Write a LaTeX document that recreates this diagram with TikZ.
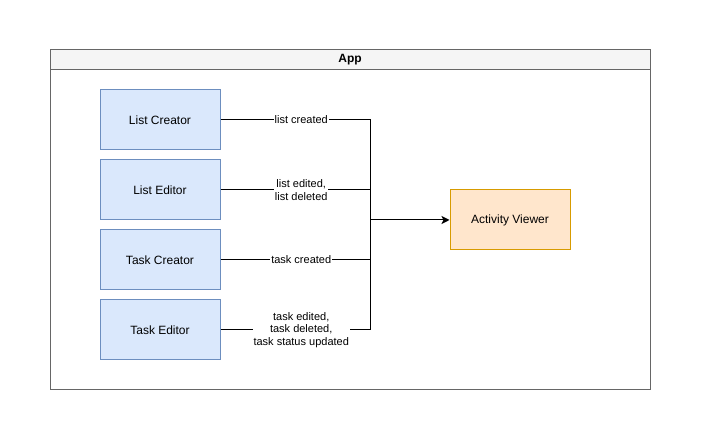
\documentclass[tikz,border=0pt]{standalone}
\usepackage{fontspec}
\setmainfont{Liberation Sans}
\usetikzlibrary{positioning,arrows.meta}
\definecolor{boxblue}{HTML}{DAE8FC}
\definecolor{lineblue}{HTML}{6C8EBF}
\definecolor{boxorange}{HTML}{FFE6CC}
\definecolor{lineorange}{HTML}{D79B00}
\definecolor{framegray}{HTML}{666666}
\definecolor{headgray}{HTML}{F5F5F5}

\tikzset{
compbox/.style={draw=lineblue,fill=boxblue,line width=0.75pt,minimum width=90pt,minimum height=45pt,font=\fontsize{9pt}{11pt}\selectfont},
viewerbox/.style={draw=lineorange,fill=boxorange,line width=0.75pt,minimum width=90pt,minimum height=45pt,font=\fontsize{9pt}{11pt}\selectfont},
edgelabel/.style={fill=white,inner sep=0.6pt,align=center,font=\fontsize{8.25pt}{9.6pt}\selectfont},
link/.style={line width=0.75pt}
}

\begin{document}
\begin{tikzpicture}[x=0.75pt,y=-0.75pt,node distance=6.75pt]
\useasboundingbox (0,0) rectangle (701,441);

\node [draw=framegray,line width=0.75pt,minimum width=450pt,minimum height=255pt] (app) at (350,220) {};
\node [draw=framegray,fill=headgray,line width=0.75pt,anchor=north,minimum width=450pt,minimum height=15pt,inner sep=0pt,font=\bfseries\fontsize{9pt}{10pt}\selectfont] (apphead) at (app.north) {App};

\node [compbox] (listcreator) at (160,120) {List Creator};
\node [compbox,below=of listcreator] (listeditor) {List Editor};
\node [compbox,below=of listeditor] (taskcreator) {Task Creator};
\node [compbox,below=of taskcreator] (taskeditor) {Task Editor};

\node [viewerbox] (viewer) at (510,220) {Activity Viewer};
\coordinate (join) at (370,220);

\foreach \src/\lbl in {listcreator/{list created},listeditor/{list edited,\\list deleted},taskcreator/{task created},taskeditor/{task edited,\\task deleted,\\task status updated}}
{
\draw [link] (\src.east) -| node [edgelabel,pos=0.27] {\lbl} (join);
}

\draw [link,-{Stealth[length=6pt,width=6pt,inset=1.5pt]}] (join) -- (viewer.west);
\end{tikzpicture}
\end{document}
